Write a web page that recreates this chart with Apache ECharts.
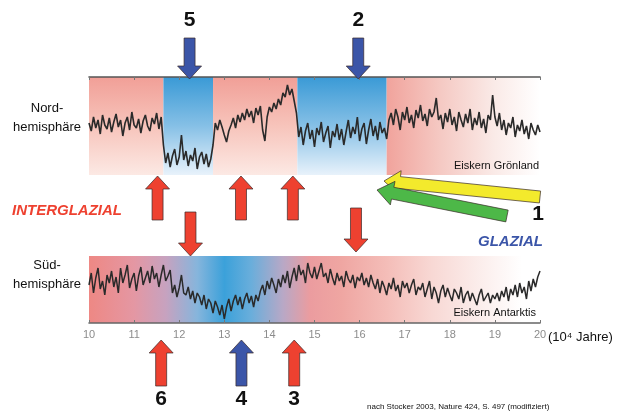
<!DOCTYPE html>
<html><head><meta charset="utf-8">
<script src="https://cdn.jsdelivr.net/npm/echarts@6/dist/echarts.min.js"></script>
<style>html,body{margin:0;padding:0;background:#fff}#c{width:617px;height:414px}</style>
</head><body><div id="c"></div>
<script>
// x axis: time in 10^4 years
const xTicks = ['10','11','12','13','14','15','16','17','18','19','20'];
// Greenland ice core (Nordhemisphäre), arbitrary units, sampled evenly from 10 to 20
const nordValues = [52,44,58,47,55,41,60,50,46,57,43,53,61,48,55,39,52,58,45,63,50,47,56,42,54,60,49,44,57,51,62,46,58,30,
12,22,8,19,26,10,18,40,15,24,9,20,14,27,6,18,23,11,21,8,16,
30,
52,45,55,48,40,33,44,50,57,47,60,53,62,55,66,58,64,52,67,60,69,45,34,58,68,63,72,66,76,70,82,78,90,80,86,74,62,38,
48,30,44,52,36,45,28,47,40,53,33,42,49,27,44,38,51,35,46,30,43,55,37,48,41,58,34,46,52,31,45,56,39,49,35,53,42,47,36,
55,62,50,66,58,45,63,55,68,52,60,47,65,57,70,54,61,49,66,58,63,77,55,60,46,62,53,66,50,58,44,63,55,48,61,52,66,45,57,50,63,47,56,42,60,55,80,58,49,62,45,55,40,52,47,58,38,50,44,55,41,49,36,52,45,40,50,43];
// Antarctic ice core (Südhemisphäre)
const suedValues = [38,50,30,45,55,34,42,28,48,40,
52,36,46,30,55,40,48,58,35,44,
50,32,47,56,38,45,52,40,57,44,
50,36,48,58,42,47,53,30,38,26,
35,48,30,28,36,24,32,20,30,26,
18,28,14,24,20,10,22,16,8,18,
4,16,24,12,22,28,18,26,14,24,
30,20,27,16,28,22,32,38,28,42,
34,45,38,30,44,36,48,40,52,35,
46,55,42,58,48,53,40,60,50,45,
56,44,52,60,46,50,40,54,45,38,
50,42,47,36,52,44,40,48,35,46,
42,50,38,45,36,48,40,34,44,30,
42,36,28,40,34,45,32,38,26,42,
35,40,30,38,44,28,36,33,40,26,
34,42,24,36,30,20,32,38,26,35,
28,22,34,30,24,36,20,28,32,22,
30,24,18,28,34,22,26,30,20,28,
24,30,22,32,26,36,22,34,28,38,
26,40,30,36,24,42,32,44,36,46,
52];
// phases in the Greenland record
const nordPhases = [[10,11.65,'warm'],[11.65,12.75,'cold'],[12.75,14.62,'warm'],[14.62,16.6,'cold'],[16.6,20,'fade']];
// event arrows: [x (10^4 a), label, colour]
const topArrows = [[12.23,'5','blue'],[15.97,'2','blue']];
const midUpArrows = [11.52,13.37,14.52];
const midDownArrows = [12.25,15.92];
const bottomArrows = [[11.6,'6','red'],[13.38,'4','blue'],[14.55,'3','red']];

const X0 = 10, X1 = 20;
function pairs(v){ return v.map((y,i)=>[X0 + i*(X1-X0)/(v.length-1), y]); }

const RED = '#ee4130', BLUE = '#3b55a8';
const pinkV = {type:'linear',x:0,y:0,x2:0,y2:1,colorStops:[{offset:0,color:'#f19f97'},{offset:0.5,color:'#f7c4bb'},{offset:1,color:'#fce9e4'}]};
const blueV = {type:'linear',x:0,y:0,x2:0,y2:1,colorStops:[{offset:0,color:'#3a9ad6'},{offset:0.5,color:'#86c0e6'},{offset:1,color:'#e8f2fb'}]};
const fadeH = {type:'linear',x:0,y:0,x2:1,y2:0,colorStops:[{offset:0,color:'#f1a39c'},{offset:0.35,color:'#f5c9c3'},{offset:0.7,color:'#faeae7'},{offset:1,color:'#ffffff'}]};
const styleFor = {warm:pinkV, cold:blueV, fade:fadeH};
const suedGrad = {type:'linear',x:0,y:0,x2:1,y2:0,colorStops:[
 {offset:0,color:'#ee8884'},{offset:0.1,color:'#e497a3'},{offset:0.17,color:'#c7a2bf'},{offset:0.24,color:'#86b5dc'},
 {offset:0.3,color:'#3ba1da'},{offset:0.36,color:'#6aaedb'},{offset:0.43,color:'#b8a8c6'},{offset:0.49,color:'#eb9c9f'},
 {offset:0.56,color:'#efa6a2'},{offset:0.66,color:'#f4bdb8'},{offset:0.76,color:'#f8d8d4'},{offset:0.86,color:'#fbecea'},{offset:0.96,color:'#ffffff'},{offset:1,color:'#ffffff'}]};

const chart = echarts.init(document.getElementById('c'), null, {renderer:'canvas'});
const FONT = 'Liberation Sans, Arial, sans-serif';
chart.setOption({
  animation:false,
  textStyle:{fontFamily:FONT},
  grid:[{left:89,top:77,width:451,height:98},{left:89,top:256,width:451,height:67}],
  xAxis:[
    {gridIndex:0,type:'value',min:10,max:20,interval:1,position:'top',z:10,
     axisLine:{onZero:false,lineStyle:{color:'#555',width:1.6}},axisTick:{inside:true,length:3,lineStyle:{color:'#777'}},
     axisLabel:{show:false},splitLine:{show:false}},
    {gridIndex:1,type:'value',min:10,max:20,interval:1,z:10,
     axisLine:{onZero:false,lineStyle:{color:'#666',width:1.6}},axisTick:{inside:true,length:3,lineStyle:{color:'#777'}},
     axisLabel:{color:'#8c8c8c',fontSize:11,margin:6,formatter:(v)=>xTicks[Math.round(v-10)]},splitLine:{show:false}}
  ],
  yAxis:[
    {gridIndex:0,type:'value',min:0,max:98,show:false},
    {gridIndex:1,type:'value',min:0,max:67,show:false}
  ],
  series:[
    {type:'line',xAxisIndex:0,yAxisIndex:0,data:pairs(nordValues),symbol:'none',
     lineStyle:{color:'#2a2a2a',width:1.6},
     markArea:{silent:true,data:nordPhases.map(p=>[{xAxis:p[0],itemStyle:{color:styleFor[p[2]]}},{xAxis:p[1]}])}},
    {type:'line',xAxisIndex:1,yAxisIndex:1,data:pairs(suedValues),symbol:'none',
     lineStyle:{color:'#2a2a2a',width:1.5},
     markArea:{silent:true,data:[[{xAxis:10,itemStyle:{color:suedGrad}},{xAxis:20}]]}}
  ]
});

function arrowPts(x1,y1,x2,y2,sw,hw,hl){
  const dx=x2-x1, dy=y2-y1, L=Math.hypot(dx,dy), ux=dx/L, uy=dy/L, nx=-uy, ny=ux;
  const mx=x2-ux*hl, my=y2-uy*hl;
  return [[x1+nx*sw/2,y1+ny*sw/2],[mx+nx*sw/2,my+ny*sw/2],[mx+nx*hw/2,my+ny*hw/2],[x2,y2],
          [mx-nx*hw/2,my-ny*hw/2],[mx-nx*sw/2,my-ny*sw/2],[x1-nx*sw/2,y1-ny*sw/2]];
}
function arrow(x1,y1,x2,y2,color,sw,hw,hl){
  return {type:'polygon',z:100,shape:{points:arrowPts(x1,y1,x2,y2,sw||11,hw||24,hl||13)},
          style:{fill:color,stroke:'#3a2a2a',lineWidth:0.7}};
}
function txt(x,y,s,opt){
  return {type:'text',z:101,x:x,y:y,style:Object.assign({text:s,fill:'#111',font:'13px '+FONT,textVerticalAlign:'middle'},opt||{})};
}
const px = (v)=>chart.convertToPixel({xAxisIndex:1},v);
const colorOf = {red:RED, blue:BLUE};
const g = [];
topArrows.forEach(a=>{ const x=px(a[0]); g.push(arrow(x,38,x,79,colorOf[a[2]])); g.push(txt(x,20,a[1],{font:'bold 21px '+FONT,textAlign:'center'})); });
midUpArrows.forEach(v=>{ const x=px(v); g.push(arrow(x,220,x,176,RED)); });
midDownArrows.forEach((v,i)=>{ const x=px(v); const t=i===0?212:208; g.push(arrow(x,t,x,t+44,RED)); });
bottomArrows.forEach(a=>{ const x=px(a[0]); g.push(arrow(x,386,x,340,colorOf[a[2]])); g.push(txt(x,399,a[1],{font:'bold 21px '+FONT,textAlign:'center'})); });
g.push(arrow(540,197,384,181,'#f3ea2c',12,24,16));
g.push(arrow(507,216,377,190,'#4db848',12,24,16));
g.push(txt(538,214,'1',{font:'bold 21px '+FONT,textAlign:'center'}));
g.push(txt(12,211,'INTERGLAZIAL',{font:'italic bold 15px '+FONT,fill:RED}));
g.push(txt(543,242,'GLAZIAL',{font:'italic bold 15px '+FONT,fill:BLUE,textAlign:'right'}));
g.push(txt(47,108,'Nord-',{textAlign:'center'}));
g.push(txt(47,127,'hemisphäre',{textAlign:'center'}));
g.push(txt(47,265,'Süd-',{textAlign:'center'}));
g.push(txt(47,284,'hemisphäre',{textAlign:'center'}));
g.push(txt(539,166,'Eiskern Grönland',{font:'11px '+FONT,textAlign:'right'}));
g.push(txt(536,313,'Eiskern Antarktis',{font:'11px '+FONT,textAlign:'right'}));
g.push(txt(548,337,'(10\u2074 Jahre)',{font:'13px '+FONT}));
g.push(txt(367,407,'nach Stocker 2003, Nature 424, S. 497 (modifiziert)',{font:'8px '+FONT}));
chart.setOption({graphic:g});
</script></body></html>
